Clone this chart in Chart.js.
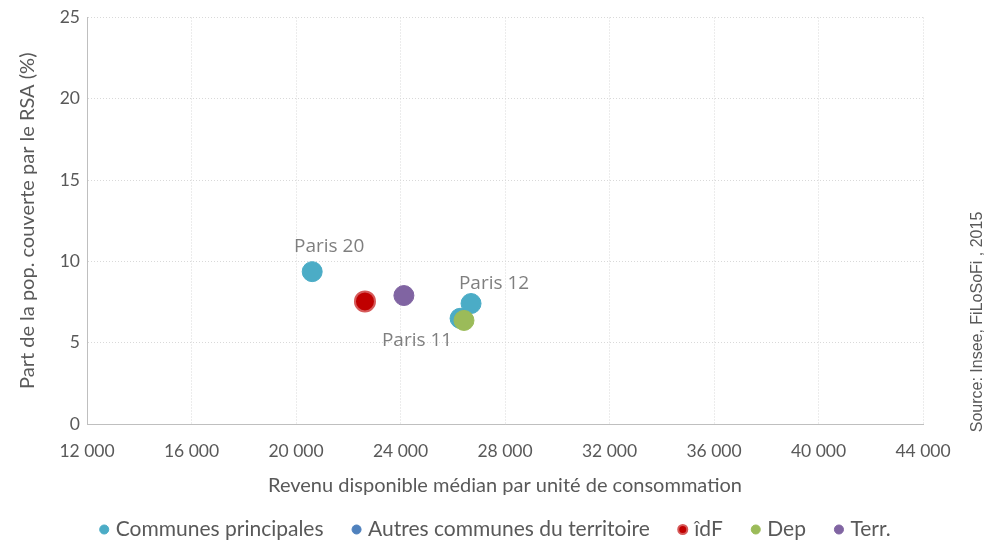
<!DOCTYPE html>
<html>
<head>
<meta charset="utf-8">
<script src="https://cdn.jsdelivr.net/npm/chart.js@4.4.0/dist/chart.umd.min.js"></script>
<style>
html,body{margin:0;padding:0;background:#fff;}
#wrap{width:1006px;height:541px;position:relative;}
</style>
</head>
<body>
<div id="wrap"><canvas id="c" width="1006" height="541"></canvas></div>
<script>
// Data
const seriesNames = ["Communes principales", "Autres communes du territoire", "îdF", "Dep", "Terr."];
const communesX = [20620, 26280, 26700];
const communesY = [9.37, 6.5, 7.41];
const communesLabels = ["Paris 20", "Paris 11", "Paris 12"];
const autresX = [];
const autresY = [];
const idfX = [22640];
const idfY = [7.54];
const depX = [26430];
const depY = [6.37];
const terrX = [24130];
const terrY = [7.9];
const xTicks = [12000, 16000, 20000, 24000, 28000, 32000, 36000, 40000, 44000];
const yTicks = [0, 5, 10, 15, 20, 25];
const xTitle = "Revenu disponible médian par unité de consommation";
const yTitle = "Part de la pop. couverte par le RSA (%)";
const sourceText = "Source: Insee, FiLoSoFi , 2015";

const pts = (xs, ys) => xs.map((x, i) => ({x: x, y: ys[i]}));
const fontMain = "Lato, 'Open Sans', sans-serif";

const labelOffsets = [[17, -25], [-43, 22], [23, -20]];

const labelPlugin = {
  id: 'pointLabels',
  afterDatasetsDraw(chart) {
    const ctx = chart.ctx;
    const meta = chart.getDatasetMeta(0);
    ctx.save();
    ctx.font = "19px 'Open Sans', sans-serif";
    ctx.fillStyle = '#7f7f7f';
    ctx.textAlign = 'center';
    ctx.textBaseline = 'middle';
    meta.data.forEach((el, i) => {
      const off = labelOffsets[i] || [0, -20];
      ctx.fillText(communesLabels[i], el.x + off[0], el.y + off[1]);
    });
    ctx.restore();
  }
};

const sourcePlugin = {
  id: 'sourceText',
  afterDraw(chart) {
    const ctx = chart.ctx;
    ctx.save();
    ctx.translate(978, 322);
    ctx.rotate(-Math.PI / 2);
    ctx.font = "16px 'Liberation Sans', Arial, sans-serif";
    ctx.fillStyle = '#595959';
    ctx.textAlign = 'center';
    ctx.textBaseline = 'middle';
    ctx.fillText(sourceText, 0, 0);
    ctx.restore();
  }
};

new Chart(document.getElementById('c'), {
  type: 'scatter',
  data: {
    datasets: [
      {label: seriesNames[0], data: pts(communesX, communesY), backgroundColor: '#4BACC6', borderColor: '#4BACC6', borderWidth: 1, pointRadius: 10, pointHoverRadius: 10, order: 5},
      {label: seriesNames[1], data: pts(autresX, autresY), backgroundColor: '#4F81BD', borderColor: '#4F81BD', borderWidth: 1, pointRadius: 10, order: 4},
      {label: seriesNames[2], data: pts(idfX, idfY), backgroundColor: '#C00000', borderColor: '#D65A5A', borderWidth: 2, pointRadius: 10, order: 3},
      {label: seriesNames[3], data: pts(depX, depY), backgroundColor: '#9BBB59', borderColor: '#9BBB59', borderWidth: 1, pointRadius: 10, order: 1},
      {label: seriesNames[4], data: pts(terrX, terrY), backgroundColor: '#8064A2', borderColor: '#8064A2', borderWidth: 1, pointRadius: 10, order: 2}
    ]
  },
  options: {
    responsive: false,
    animation: false,
    events: [],
    layout: {padding: {top: 16, right: 12, left: 0, bottom: -9}},
    plugins: {
      tooltip: {enabled: false},
      legend: {
        position: 'bottom',
        labels: {
          usePointStyle: true,
          pointStyle: 'circle',
          boxWidth: 2,
          boxHeight: 6.4,
          padding: 32,
          color: '#595959',
          font: {family: fontMain, size: 21},
          sort: (a, b) => a.datasetIndex - b.datasetIndex
        }
      }
    },
    scales: {
      x: {
        type: 'linear',
        min: 12000, max: 44000,
        afterBuildTicks: (s) => { s.ticks = xTicks.map(v => ({value: v})); },
        afterFit: (s) => { s.height = 63; },
        ticks: {
          color: '#595959',
          font: {family: fontMain, size: 17.5},
          padding: 17,
          maxRotation: 0,
          callback: (v) => v.toLocaleString('fr-FR').replace(/\u202f|\u00a0/g, ' ')
        },
        grid: {color: '#d9d9d9', drawTicks: false},
        border: {display: true, color: '#bfbfbf', width: 1, dash: [1, 2]},
        title: {display: true, text: xTitle, color: '#595959', font: {family: fontMain, size: 20}, padding: {top: 0, bottom: -11}}
      },
      y: {
        type: 'linear',
        min: 0, max: 25,
        afterBuildTicks: (s) => { s.ticks = yTicks.map(v => ({value: v})); },
        afterFit: (s) => { s.width = 87; },
        ticks: {color: '#595959', font: {family: fontMain, size: 17.5}, padding: 7},
        grid: {color: '#d9d9d9', drawTicks: false},
        border: {display: true, color: '#bfbfbf', width: 1, dash: [1, 2]},
        title: {display: true, text: yTitle, color: '#595959', font: {family: fontMain, size: 20}, padding: {top: 16, bottom: 4}}
      },
      y2: {
        type: 'linear',
        position: 'right',
        display: true,
        afterFit: (s) => { s.width = 71; },
        ticks: {display: false},
        grid: {display: false, drawOnChartArea: false},
        border: {display: false}
      }
    }
  },
  plugins: [labelPlugin, sourcePlugin]
});
</script>
</body>
</html>
